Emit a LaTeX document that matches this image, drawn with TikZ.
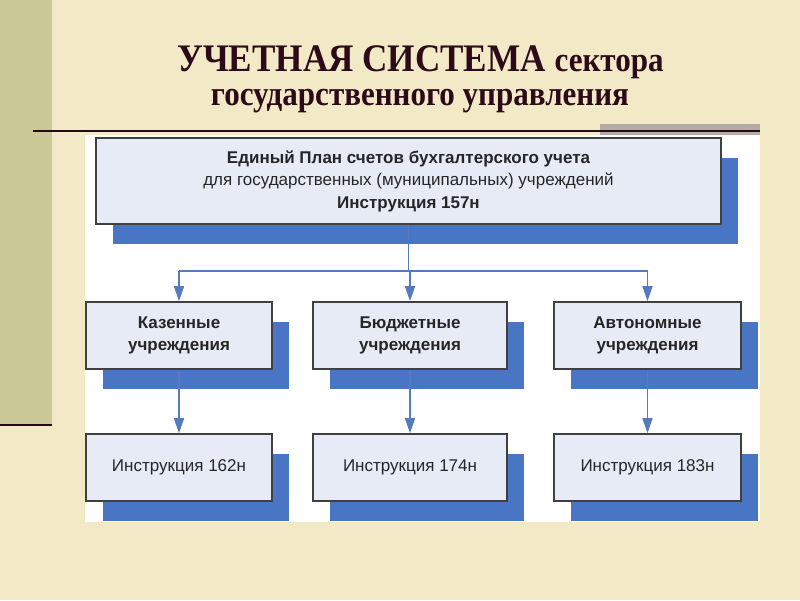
\documentclass[tikz,border=0pt]{standalone}
\usepackage{fontspec}
\setmainfont{Liberation Serif}
\newfontfamily\titlefont[FakeStretch=0.9]{Liberation Serif}
\newfontfamily\boxfont{Liberation Sans}
\usetikzlibrary{arrows.meta,shadows}
\definecolor{bgcream}{RGB}{242,233,198}
\definecolor{olivebar}{RGB}{204,201,152}
\definecolor{darkline}{RGB}{40,8,22}
\definecolor{titlecol}{RGB}{45,10,25}
\definecolor{graybar}{RGB}{178,172,165}
\definecolor{shadowblue}{RGB}{72,118,196}
\definecolor{boxfill}{RGB}{230,235,245}
\definecolor{boxedge}{RGB}{64,64,64}
\definecolor{arrowblue}{RGB}{84,122,192}
\tikzset{
  orgbox/.style={draw=boxedge, line width=1.6pt, fill=boxfill, align=center,
    inner sep=0pt, font=\boxfont\fontsize{17}{22.5}\selectfont, text=black!85,
    drop shadow={shadow xshift=17pt, shadow yshift=-20pt, fill=shadowblue, opacity=1}},
  conn/.style={draw=arrowblue, line width=1.5pt},
  arr/.style={conn, -{Triangle[length=15pt,width=10pt]}},
  titletext/.style={text=titlecol, inner sep=0pt, anchor=base, font=\titlefont\bfseries}
}
\begin{document}
\begin{tikzpicture}[x=1pt,y=-1pt]
\useasboundingbox (0,0) rectangle (800,600);
\fill[bgcream] (0,0) rectangle (800,600);
\fill[olivebar] (0,0) rectangle (52,425);
\draw[darkline, line width=2.5pt] (0,425) -- (52,425);
\fill[graybar] (600,124) rectangle (760,135);
\fill[white] (85,135) rectangle (760,522);
\draw[darkline, line width=2.5pt] (33,131) -- (760,131);

\node[titletext] (t1) at (420.5,71) {\fontsize{39}{44}\selectfont УЧЕТНАЯ СИСТЕМА \fontsize{34.5}{38}\selectfont сектора};
\node[titletext] (t2) at (420,105) {\fontsize{34.5}{38}\selectfont государственного управления};

\node[orgbox, minimum width=625pt, minimum height=86pt] (top) at (408.5,181)
  {\bfseries Единый План счетов бухгалтерского учета\\
   для государственных (муниципальных) учреждений\\
   \bfseries Инструкция 157н};

\node[orgbox, minimum width=186pt, minimum height=67pt] (k) at (179,335.5) {\bfseries Казенные\\\bfseries учреждения};
\node[orgbox, minimum width=194pt, minimum height=67pt] (b) at (410,335.5) {\bfseries Бюджетные\\\bfseries учреждения};
\node[orgbox, minimum width=187pt, minimum height=67pt] (a) at (647.5,335.5) {\bfseries Автономные\\\bfseries учреждения};

\node[orgbox, minimum width=186pt, minimum height=67pt] (k2) at (179,467.5) {Инструкция 162н};
\node[orgbox, minimum width=194pt, minimum height=67pt] (b2) at (410,467.5) {Инструкция 174н};
\node[orgbox, minimum width=187pt, minimum height=67pt] (a2) at (647.5,467.5) {Инструкция 183н};

\draw[conn] (top.south) -- ++(0,46) coordinate (bus);
\draw[conn] (bus -| k.north) -- (bus -| a.north);
\draw[arr] (bus -| k.north) -- (k.north);
\draw[arr] (bus -| b.north) -- (b.north);
\draw[arr] (bus -| a.north) -- (a.north);
\draw[arr] (k.south) -- (k2.north);
\draw[arr] (b.south) -- (b2.north);
\draw[arr] (a.south) -- (a2.north);
\end{tikzpicture}
\end{document}
